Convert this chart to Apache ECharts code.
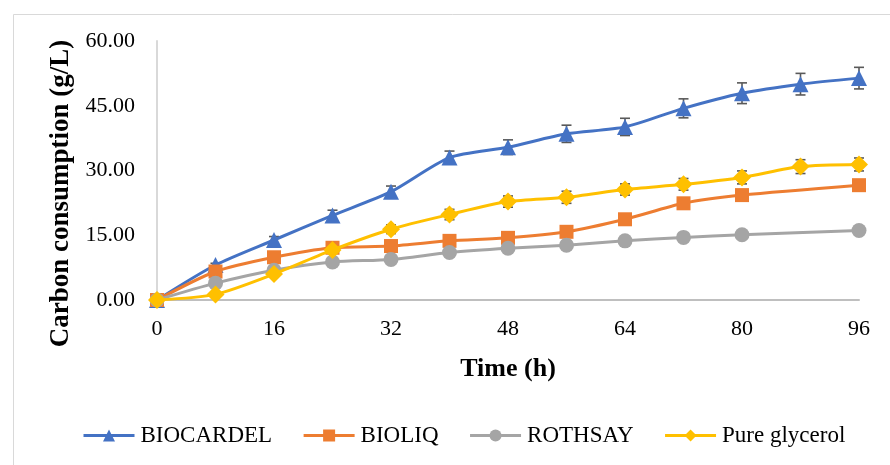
<!DOCTYPE html>
<html>
<head>
<meta charset="utf-8">
<title>Carbon consumption</title>
<script src="https://cdn.jsdelivr.net/npm/echarts@6/dist/echarts.min.js"></script>
<style>
  html, body { margin: 0; padding: 0; background: #fff; }
  #chart { width: 890px; height: 465px; }
</style>
</head>
<body>
<div id="chart"></div>
<script>
// Sampling times (h); BIOLIQ and ROTHSAY have no 88 h sample
const timeFull = [0, 8, 16, 24, 32, 40, 48, 56, 64, 72, 80, 88, 96];
const timeShort = [0, 8, 16, 24, 32, 40, 48, 56, 64, 72, 80, 96];

// Carbon consumption (g/L)
const biocardel = [0, 8.1, 13.9, 19.6, 25.1, 33.0, 35.4, 38.5, 40.1, 44.4, 47.9, 50.0, 51.4];
const biocardelErr = [0, 0.4, 0.8, 1.2, 1.3, 1.5, 1.7, 2.0, 2.0, 2.2, 2.4, 2.5, 2.5];
const bioliq = [0, 6.6, 9.9, 12.1, 12.5, 13.7, 14.4, 15.8, 18.7, 22.4, 24.3, 26.6];
const rothsay = [0, 3.9, 6.9, 8.8, 9.4, 11.0, 12.0, 12.7, 13.7, 14.5, 15.1, 16.1];
const glycerol = [0, 1.3, 6.0, 11.6, 16.4, 19.8, 22.8, 23.8, 25.6, 26.8, 28.4, 30.9, 31.4];
const glycerolErr = [0, 0.3, 0.5, 0.7, 1.0, 1.2, 1.3, 1.4, 1.3, 1.35, 1.5, 1.6, 1.5];

const seriesNames = ['BIOCARDEL', 'BIOLIQ', 'ROTHSAY', 'Pure glycerol'];
const colors = ['#4472C4', '#ED7D31', '#A5A5A5', '#FFC000'];

const FONT = '"Liberation Serif", "Times New Roman", serif';

const pairs = (xs, ys) => xs.map((x, i) => [x, ys[i]]);
const errData = (xs, ys, es) => xs.map((x, i) => [x, ys[i] - es[i], ys[i] + es[i]]);

// Vertical error bar with short caps at both ends
function renderErrorBar(params, api) {
  const x = api.value(0);
  const lo = api.coord([x, api.value(1)]);
  const hi = api.coord([x, api.value(2)]);
  const half = 5;
  const style = { stroke: '#595959', lineWidth: 1.6 };
  return {
    type: 'group',
    children: [
      { type: 'line', shape: { x1: lo[0], y1: lo[1], x2: hi[0], y2: hi[1] }, style },
      { type: 'line', shape: { x1: lo[0] - half, y1: lo[1], x2: lo[0] + half, y2: lo[1] }, style },
      { type: 'line', shape: { x1: hi[0] - half, y1: hi[1], x2: hi[0] + half, y2: hi[1] }, style }
    ]
  };
}

function errorSeries(id, xs, ys, es) {
  return {
    id: id,
    name: id,
    type: 'custom',
    renderItem: renderErrorBar,
    data: errData(xs, ys, es),
    encode: { x: 0, y: [1, 2] },
    z: 2
  };
}

function lineSeries(idx, data, symbol, size) {
  return {
    name: seriesNames[idx],
    type: 'line',
    data: data,
    smooth: 0.25,
    symbol: symbol,
    symbolSize: size,
    showAllSymbol: true,
    lineStyle: { color: colors[idx], width: 3 },
    itemStyle: { color: colors[idx] },
    z: 3 + idx
  };
}

const chart = echarts.init(document.getElementById('chart'), null, { renderer: 'canvas' });

chart.setOption({
  animation: false,
  backgroundColor: '#fff',
  textStyle: { fontFamily: FONT, color: '#000' },
  graphic: [{
    type: 'rect',
    left: 11, top: 12,
    shape: { width: 900, height: 470 },
    style: { fill: 'none', stroke: '#D9D9D9', lineWidth: 1 },
    silent: true
  }],
  grid: { left: 157, top: 41, right: 31, bottom: 165 },
  legend: {
    bottom: 13,
    left: 77,
    itemWidth: 51,
    itemHeight: 15,
    itemGap: 30,
    data: seriesNames,
    lineStyle: { width: 3 },
    textStyle: { fontFamily: FONT, fontSize: 23, color: '#000', padding: [0, 0, 0, 1] }
  },
  xAxis: {
    type: 'value',
    min: 0, max: 96, interval: 16,
    name: 'Time (h)',
    nameLocation: 'middle',
    nameGap: 56,
    nameTextStyle: { fontFamily: FONT, fontSize: 26, fontWeight: 'bold', color: '#000' },
    axisLine: { lineStyle: { color: '#BFBFBF', width: 2 } },
    axisTick: { show: false },
    splitLine: { show: false },
    axisLabel: { fontFamily: FONT, fontSize: 22, color: '#000', margin: 18 }
  },
  yAxis: {
    type: 'value',
    min: 0, max: 60, interval: 15,
    name: 'Carbon consumption (g/L)',
    nameLocation: 'middle',
    nameGap: 82,
    nameRotate: 90,
    nameTextStyle: { fontFamily: FONT, fontSize: 27, fontWeight: 'bold', color: '#000', padding: [0, 46, 0, 0] },
    axisLine: { show: true, lineStyle: { color: '#D9D9D9', width: 2 } },
    axisTick: { show: false },
    splitLine: { show: false },
    axisLabel: { fontFamily: FONT, fontSize: 22, color: '#000', margin: 22, formatter: v => v.toFixed(2) }
  },
  series: [
    errorSeries('biocardel-sd', timeFull, biocardel, biocardelErr),
    errorSeries('glycerol-sd', timeFull, glycerol, glycerolErr),
    lineSeries(0, pairs(timeFull, biocardel), 'triangle', 16),
    lineSeries(1, pairs(timeShort, bioliq), 'rect', 14),
    lineSeries(2, pairs(timeShort, rothsay), 'circle', 15),
    lineSeries(3, pairs(timeFull, glycerol), 'diamond', 18)
  ]
});
</script>
</body>
</html>
